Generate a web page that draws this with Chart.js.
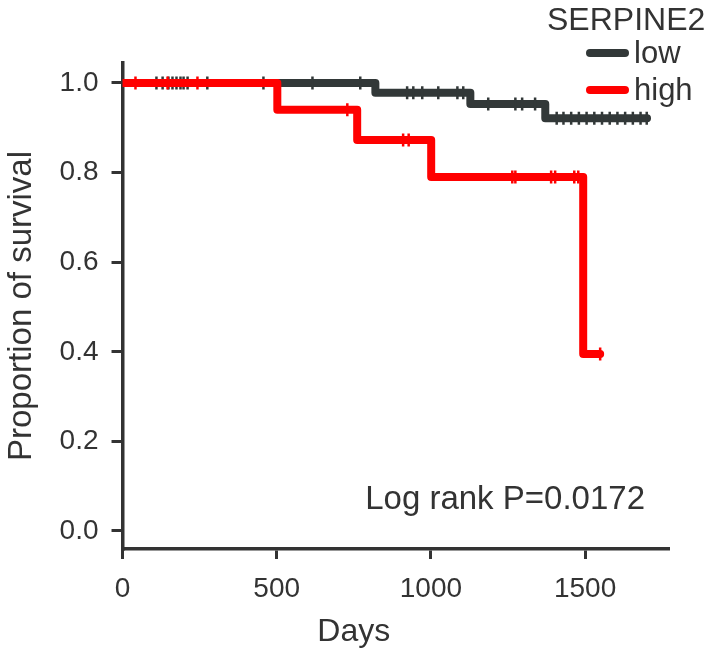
<!DOCTYPE html>
<html>
<head>
<meta charset="utf-8">
<script src="https://cdn.jsdelivr.net/npm/chart.js@4.4.1/dist/chart.umd.min.js"></script>
<style>
  html, body { margin: 0; padding: 0; background: #fff; }
</style>
</head>
<body>
<canvas id="kmChart" width="710" height="653"></canvas>
<script>
// Kaplan-Meier steps: day of each drop and the survival level after it
const lowTimes = [0, 820, 1128, 1371, 1701];
const lowSurv = [1.0, 0.978, 0.953, 0.921, 0.921];
const highTimes = [0, 502, 761, 1001, 1494, 1549];
const highSurv = [1.0, 0.940, 0.873, 0.790, 0.395, 0.395];

// censored patients (days)
const lowCensored = [110, 130, 149, 162, 175, 188, 198, 211, 275, 457, 616, 771,
  923, 943, 972, 1024, 1086, 1105, 1186, 1274, 1296, 1338,
  1408, 1430, 1455, 1480, 1505, 1530, 1555, 1580, 1605, 1630, 1655, 1680, 1700];
const highCensored = [42, 146, 243, 729, 910, 928, 1264, 1274, 1390, 1403, 1465, 1478, 1549];

const xTicks = [0, 500, 1000, 1500];
const yTicks = [0, 0.2, 0.4, 0.6, 0.8, 1.0];
const groupNames = ['low', 'high'];
const legendTitle = 'SERPINE2';
const pValueText = 'Log rank P=0.0172';
const xTitle = 'Days';

const FONT = "'Liberation Sans', Arial, sans-serif";
const TEXT = '#333333';
const AXIS = '#333333';
const DARK = '#323838';
const RED = '#ff0000';

const toPoints = (times, surv) => times.map((t, i) => ({ x: t, y: surv[i] }));

// level of the curve at a given day (used to sit the censor ticks on the line)
const levelAt = (times, surv, day) => {
  let s = surv[0];
  for (let i = 0; i < times.length; i++) {
    if (times[i] <= day) s = surv[i];
  }
  return s;
};
const censorPoints = (days, times, surv) => days.map(d => ({ x: d, y: levelAt(times, surv, d) }));

const curve = (label, color, times, surv) => ({
  label: label,
  data: toPoints(times, surv),
  stepped: 'before',
  borderColor: color,
  borderWidth: 8,
  borderCapStyle: 'round',
  borderJoinStyle: 'round',
  pointRadius: 0,
  pointHoverRadius: 0,
  fill: false
});

const censor = (label, color, days, times, surv) => ({
  label: label,
  data: censorPoints(days, times, surv),
  showLine: false,
  pointStyle: 'line',
  pointRotation: 90,
  pointRadius: 6.5,
  pointBorderWidth: 2.5,
  pointBorderColor: color,
  pointBackgroundColor: color,
  borderColor: color
});

// legend, x title and p value
const labelsPlugin = {
  id: 'kmLabels',
  afterDraw: (chart) => {
    const c = chart.ctx;
    const area = chart.chartArea;
    const xs = chart.scales.x;
    c.save();
    c.fillStyle = TEXT;
    c.textBaseline = 'middle';

    c.font = `32px ${FONT}`;
    c.textAlign = 'left';
    c.fillText(legendTitle, 547, 21);

    const colors = [DARK, RED];
    const rows = [53, 90];
    c.lineCap = 'round';
    c.lineWidth = 8;
    groupNames.forEach((name, i) => {
      c.strokeStyle = colors[i];
      c.beginPath();
      c.moveTo(590, rows[i]);
      c.lineTo(625, rows[i]);
      c.stroke();
      c.font = `31px ${FONT}`;
      c.fillText(name, 634, rows[i] + 1);
    });

    // axis title sits under the middle of the labelled range
    c.font = `32px ${FONT}`;
    c.textAlign = 'center';
    const mid = (xs.getPixelForValue(xTicks[0]) + xs.getPixelForValue(xTicks[xTicks.length - 1])) / 2;
    c.fillText(xTitle, mid, 632);

    c.font = `33px ${FONT}`;
    c.textAlign = 'right';
    c.fillText(pValueText, area.right - 23, chart.scales.y.getPixelForValue(0.07));
    c.restore();
  }
};

const ctx = document.getElementById('kmChart').getContext('2d');
const chart = new Chart(ctx, {
  type: 'line',
  data: {
    // first listed is drawn on top
    datasets: [
      censor('high censored', RED, highCensored, highTimes, highSurv),
      curve('high', RED, highTimes, highSurv),
      censor('low censored', DARK, lowCensored, lowTimes, lowSurv),
      curve('low', DARK, lowTimes, lowSurv)
    ]
  },
  options: {
    responsive: false,
    animation: false,
    events: [],
    layout: {
      padding: { left: 0, top: 63, right: 42, bottom: 34 }
    },
    plugins: {
      legend: { display: false },
      tooltip: { enabled: false }
    },
    scales: {
      x: {
        type: 'linear',
        min: 0,
        max: 1769,
        afterBuildTicks: (axis) => { axis.ticks = xTicks.map(v => ({ value: v })); },
        grid: {
          display: true,
          drawOnChartArea: false,
          drawTicks: true,
          tickLength: 10,
          tickWidth: 3,
          tickColor: AXIS,
          color: AXIS,
          lineWidth: 3
        },
        border: { display: true, color: AXIS, width: 3.5 },
        ticks: {
          color: TEXT,
          font: { family: FONT, size: 28, lineHeight: 1.0 },
          padding: 16,
          maxRotation: 0,
          autoSkip: false,
          callback: (v) => String(v)
        },
        title: { display: false }
      },
      y: {
        type: 'linear',
        min: -0.0402,
        max: 1.0446,
        afterBuildTicks: (axis) => { axis.ticks = yTicks.map(v => ({ value: v })); },
        grid: {
          display: true,
          drawOnChartArea: false,
          drawTicks: true,
          tickLength: 11,
          tickWidth: 3,
          tickColor: AXIS,
          color: AXIS,
          lineWidth: 3
        },
        border: { display: true, color: AXIS, width: 3.5 },
        ticks: {
          color: TEXT,
          font: { family: FONT, size: 28 },
          padding: 13,
          callback: (v) => Number(v).toFixed(1)
        },
        title: {
          display: true,
          text: 'Proportion of survival',
          color: TEXT,
          font: { family: FONT, size: 33 },
          padding: { top: 2, bottom: 5 }
        }
      }
    }
  },
  plugins: [labelsPlugin]
});
</script>
</body>
</html>
